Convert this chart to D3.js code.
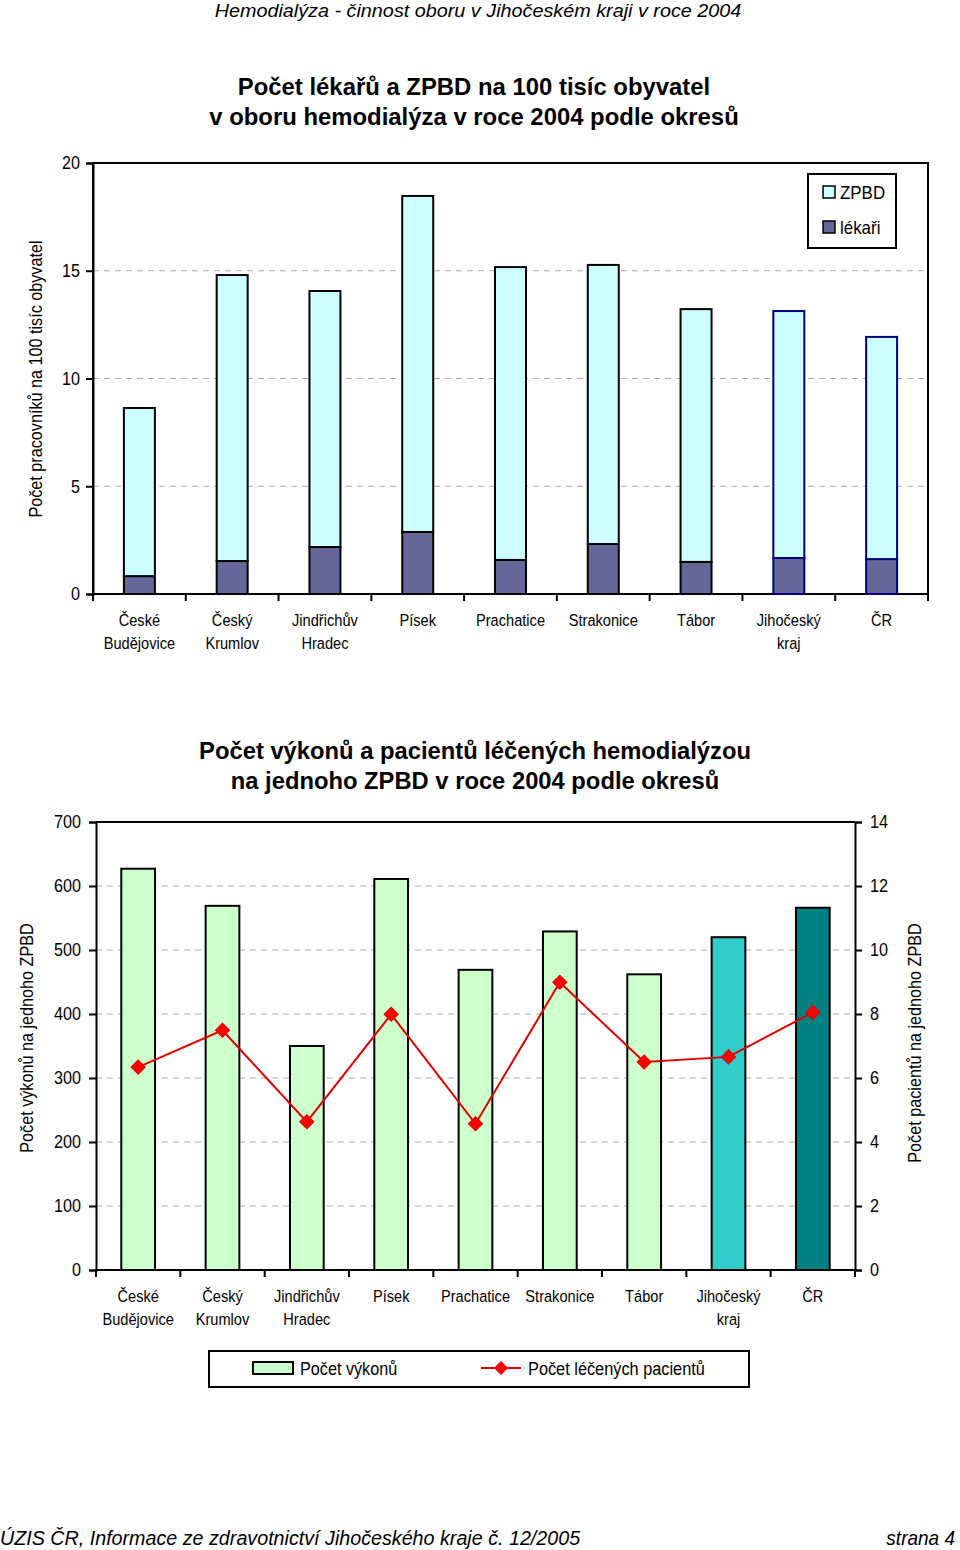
<!DOCTYPE html>
<html><head><meta charset="utf-8">
<script src="https://cdn.jsdelivr.net/npm/d3@7"></script>
<style>
body{margin:0;background:#fff;}
svg{display:block;}
text{font-family:"Liberation Sans","Arial",sans-serif;fill:#000;}
</style></head>
<body>
<script>
const categories = [["České","Budějovice"],["Český","Krumlov"],["Jindřichův","Hradec"],["Písek"],["Prachatice"],["Strakonice"],["Tábor"],["Jihočeský","kraj"],["ČR"]];
const catKeys = categories.map(c=>c.join(" "));
// chart 1
const lekari = [0.83,1.53,2.18,2.88,1.58,2.32,1.49,1.67,1.62];
const zpbd   = [7.80,13.27,11.88,15.59,13.59,12.95,11.73,11.46,10.31];
const yTicks1 = [0,5,10,15,20];
// chart 2
const vykony   = [627,569,350,611,469,529,462,520,566];
const pacienti = [6.34,7.49,4.63,7.99,4.57,8.99,6.50,6.66,8.05];
const yTicksL = [0,100,200,300,400,500,600,700];
const yTicksR = [0,2,4,6,8,10,12,14];
const barColors2 = ["#CCFFCC","#CCFFCC","#CCFFCC","#CCFFCC","#CCFFCC","#CCFFCC","#CCFFCC","#33CCCC","#008080"];

const W=960,H=1550;
const svg=d3.select("body").append("svg").attr("width",W).attr("height",H);

function txt(g,x,y,str,o={}){
  const rot=o.rotate?` rotate(${o.rotate})`:"";
  const t=g.append("text").attr("transform",`translate(${x},${y})${rot} scale(${o.sx||1},1)`)
    .attr("text-anchor",o.anchor||"start").attr("font-size",o.size||18);
  if(o.bold) t.attr("font-weight","bold");
  if(o.italic) t.attr("font-style","italic");
  t.text(str);
  return t;
}

// header & footer
txt(svg,478,17,"Hemodialýza - činnost oboru v Jihočeském kraji v roce 2004",{anchor:"middle",italic:true,size:18,sx:1.1});
txt(svg,0,1545,"ÚZIS ČR, Informace ze zdravotnictví Jihočeského kraje č. 12/2005",{italic:true,size:20,sx:0.985});
txt(svg,955,1545,"strana 4",{anchor:"end",italic:true,size:20,sx:0.95});

// ===== Chart 1 =====
txt(svg,474,95,"Počet lékařů a ZPBD na 100 tisíc obyvatel",{anchor:"middle",bold:true,size:24,sx:0.995});
txt(svg,474,125,"v oboru hemodialýza v roce 2004 podle okresů",{anchor:"middle",bold:true,size:24,sx:0.995});

const m1={l:93,r:928,t:163,b:594};
const x1=d3.scaleBand().domain(catKeys).range([m1.l,m1.r]).paddingInner(0.666).paddingOuter(0.333);
const y1=d3.scaleLinear().domain([0,20]).range([m1.b,m1.t]);
const g1=svg.append("g");
g1.selectAll(".grid").data(yTicks1.filter(d=>d>0&&d<20)).join("line")
 .attr("x1",m1.l).attr("x2",m1.r).attr("y1",d=>y1(d)).attr("y2",d=>y1(d))
 .attr("stroke","#aaa").attr("stroke-dasharray","6,5").attr("stroke-width",1);
g1.append("rect").attr("x",m1.l).attr("y",m1.t).attr("width",m1.r-m1.l).attr("height",m1.b-m1.t).attr("fill","none").attr("stroke","#000").attr("stroke-width",2);
const stroke1 = (i)=> i>=7 ? "#000080" : "#000";
g1.selectAll(".lek").data(lekari).join("rect")
 .attr("x",(d,i)=>x1(catKeys[i])).attr("width",x1.bandwidth())
 .attr("y",d=>y1(d)).attr("height",d=>y1(0)-y1(d))
 .attr("fill","#666699").attr("stroke",(d,i)=>stroke1(i)).attr("stroke-width",2);
g1.selectAll(".zp").data(zpbd).join("rect")
 .attr("x",(d,i)=>x1(catKeys[i])).attr("width",x1.bandwidth())
 .attr("y",(d,i)=>y1(d+lekari[i])).attr("height",(d,i)=>y1(lekari[i])-y1(d+lekari[i]))
 .attr("fill","#CCFFFF").attr("stroke",(d,i)=>stroke1(i)).attr("stroke-width",2);
const ax1=d3.axisLeft(y1).tickValues(yTicks1).tickSize(7).tickPadding(0);
const ga1=g1.append("g").attr("transform",`translate(${m1.l},0)`).call(ax1);
ga1.select(".domain").attr("stroke-width",2);
ga1.selectAll(".tick line").attr("stroke-width",2);
ga1.selectAll("text").attr("font-size",18).style("font-family",'"Liberation Sans",Arial,sans-serif')
 .attr("x",0).attr("transform","translate(-13,0) scale(0.9,1)");
const step1=(m1.r-m1.l)/catKeys.length;
g1.selectAll(".xt").data(d3.range(catKeys.length+1)).join("line")
 .attr("x1",d=>m1.l+d*step1).attr("x2",d=>m1.l+d*step1).attr("y1",m1.b).attr("y2",m1.b+7)
 .attr("stroke","#000").attr("stroke-width",2);
categories.forEach((c,i)=>{
  const cx=x1(catKeys[i])+x1.bandwidth()/2;
  c.forEach((s,j)=>txt(g1,cx,626+j*23,s,{anchor:"middle",size:17,sx:0.86}));
});
txt(g1,42,379,"Počet pracovníků na 100 tisíc obyvatel",{anchor:"middle",size:18,sx:0.9,rotate:-90});
const l1=g1.append("g");
l1.append("rect").attr("x",808).attr("y",174).attr("width",88).attr("height",74).attr("fill","#fff").attr("stroke","#000").attr("stroke-width",2);
[["ZPBD","#CCFFFF"],["lékaři","#666699"]].forEach((d,i)=>{
  l1.append("rect").attr("x",823).attr("y",186+i*35).attr("width",12).attr("height",12).attr("fill",d[1]).attr("stroke","#000").attr("stroke-width",1.5);
  txt(l1,840,199+i*35,d[0],{size:18,sx:0.94});
});

// ===== Chart 2 =====
txt(svg,475,759,"Počet výkonů a pacientů léčených hemodialýzou",{anchor:"middle",bold:true,size:24,sx:0.99});
txt(svg,475,789,"na jednoho ZPBD v roce 2004 podle okresů",{anchor:"middle",bold:true,size:24,sx:0.99});

const m2={l:96,r:855,t:822,b:1270};
const x2=d3.scaleBand().domain(catKeys).range([m2.l,m2.r]).paddingInner(0.6).paddingOuter(0.3);
const yL=d3.scaleLinear().domain([0,700]).range([m2.b,m2.t]);
const yR=d3.scaleLinear().domain([0,14]).range([m2.b,m2.t]);
const g2=svg.append("g");
g2.selectAll(".grid").data(yTicksL.filter(d=>d>0&&d<700)).join("line")
 .attr("x1",m2.l).attr("x2",m2.r).attr("y1",d=>yL(d)).attr("y2",d=>yL(d))
 .attr("stroke","#aaa").attr("stroke-dasharray","6,5").attr("stroke-width",1);
g2.append("line").attr("x1",m2.l).attr("x2",m2.r).attr("y1",m2.t).attr("y2",m2.t).attr("stroke","#000").attr("stroke-width",2);
g2.selectAll(".bar").data(vykony).join("rect")
 .attr("x",(d,i)=>x2(catKeys[i])).attr("width",x2.bandwidth())
 .attr("y",d=>yL(d)).attr("height",d=>yL(0)-yL(d))
 .attr("fill",(d,i)=>barColors2[i]).attr("stroke","#000").attr("stroke-width",2);
const axL=d3.axisLeft(yL).tickValues(yTicksL).tickSize(7).tickPadding(0);
const gaL=g2.append("g").attr("transform",`translate(${m2.l},0)`).call(axL);
const axR=d3.axisRight(yR).tickValues(yTicksR).tickSize(7).tickPadding(0);
const gaR=g2.append("g").attr("transform",`translate(${m2.r},0)`).call(axR);
[gaL,gaR].forEach(g=>{
  g.select(".domain").attr("stroke-width",2);
  g.selectAll(".tick line").attr("stroke-width",2);
  g.selectAll("text").attr("font-size",18).style("font-family",'"Liberation Sans",Arial,sans-serif').attr("x",0);
});
gaL.selectAll("text").attr("transform","translate(-15,0) scale(0.9,1)");
gaR.selectAll("text").attr("transform","translate(15,0) scale(0.9,1)");
g2.append("line").attr("x1",m2.l).attr("x2",m2.r).attr("y1",m2.b).attr("y2",m2.b).attr("stroke","#000").attr("stroke-width",2);
const step2=(m2.r-m2.l)/catKeys.length;
g2.selectAll(".xt").data(d3.range(catKeys.length+1)).join("line")
 .attr("x1",d=>m2.l+d*step2).attr("x2",d=>m2.l+d*step2).attr("y1",m2.b).attr("y2",m2.b+7)
 .attr("stroke","#000").attr("stroke-width",2);
const cx2=(i)=>x2(catKeys[i])+x2.bandwidth()/2;
g2.append("path").datum(pacienti).attr("fill","none").attr("stroke","#E00000").attr("stroke-width",2)
 .attr("d",d3.line().x((d,i)=>cx2(i)).y(d=>yR(d)));
g2.selectAll(".pt").data(pacienti).join("path")
 .attr("transform",(d,i)=>`translate(${cx2(i)},${yR(d)}) rotate(45)`)
 .attr("d","M-5,-5H5V5H-5Z").attr("fill","#FF0000").attr("stroke","#E00000").attr("stroke-width",1);
categories.forEach((c,i)=>{
  const cx=cx2(i);
  c.forEach((s,j)=>txt(g2,cx,1302+j*23,s,{anchor:"middle",size:17,sx:0.86}));
});
txt(g2,33,1038,"Počet výkonů na jednoho ZPBD",{anchor:"middle",size:18,sx:0.9,rotate:-90});
txt(g2,921,1043,"Počet pacientů na jednoho ZPBD",{anchor:"middle",size:18,sx:0.9,rotate:-90});
const l2=g2.append("g");
l2.append("rect").attr("x",209).attr("y",1351).attr("width",540).attr("height",36).attr("fill","#fff").attr("stroke","#000").attr("stroke-width",2);
l2.append("rect").attr("x",253).attr("y",1362).attr("width",40).attr("height",12).attr("fill","#CCFFCC").attr("stroke","#000").attr("stroke-width",2);
txt(l2,300,1375,"Počet výkonů",{size:18,sx:0.9});
l2.append("line").attr("x1",481).attr("x2",521).attr("y1",1368).attr("y2",1368).attr("stroke","#E00000").attr("stroke-width",2);
l2.append("path").attr("transform","translate(501,1368) rotate(45)").attr("d","M-5,-5H5V5H-5Z").attr("fill","#FF0000");
txt(l2,528,1375,"Počet léčených pacientů",{size:18,sx:0.907});
</script>
</body></html>
